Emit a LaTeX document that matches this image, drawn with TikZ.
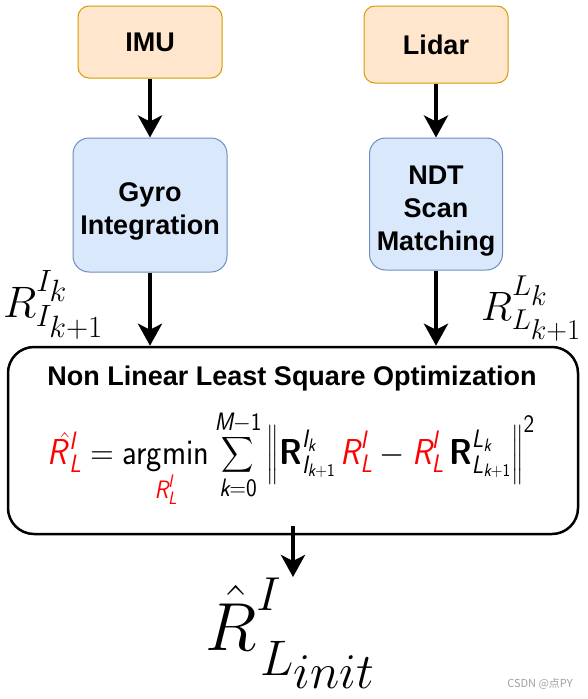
\RequirePackage{fix-cm}
\documentclass[tikz,border=0pt]{standalone}
\usepackage{amsmath}
\usepackage{graphicx}
\usepackage{fontspec}
\usetikzlibrary{arrows.meta}
\newfontfamily\boxfont{Liberation Sans}
\newfontfamily\cjkfont{Noto Sans CJK SC}
\definecolor{imufill}{HTML}{FFE6CC}
\definecolor{imudraw}{HTML}{D79B00}
\definecolor{procfill}{HTML}{DAE8FC}
\definecolor{procdraw}{HTML}{6C8EBF}
\definecolor{wmgray}{HTML}{A0A0A0}
\newcommand{\sfi}[1]{\textsf{\itshape #1}}
\newcommand{\sfb}[1]{\textsf{\bfseries #1}}
\newcommand{\sfn}[1]{\textsf{#1}}
\newcommand{\redR}{{\color{red}\sfi{R}^{\sfi{I}}_{\sfi{L}}}}
\begin{document}
\begin{tikzpicture}[x=1pt,y=-1pt,
  boxtext/.style={font=\boxfont\bfseries\fontsize{27}{33}\selectfont, align=center, inner sep=0pt},
  srcbox/.style={boxtext, draw=imudraw, fill=imufill, rounded corners=11pt, line width=1pt, minimum width=144pt},
  procbox/.style={boxtext, draw=procdraw, fill=procfill, rounded corners=16pt, line width=1pt},
  bigbox/.style={draw=black, line width=2.5pt, rounded corners=26pt, inner sep=0pt, minimum width=570pt, minimum height=187pt},
  flow/.style={line width=4.5pt, -{Stealth[length=22pt,width=24pt,inset=6pt]}},
  mathlbl/.style={inner sep=0pt, anchor=base west}
]
\useasboundingbox (0,0) rectangle (588,699);

\node[srcbox, minimum height=72pt] (imu) at (150,42) {IMU};
\node[srcbox, minimum height=77pt] (lidar) at (436,44.5) {Lidar};
\node[procbox, minimum width=154pt, minimum height=134pt] (gyro) at (150,205) {\rule{0pt}{31pt}Gyro\\Integration};
\node[procbox, minimum width=133pt, minimum height=132pt] (ndt) at (436,204) {\rule{0pt}{33pt}NDT\\Scan\\Matching};
\node[bigbox] (opt) at (293,440.5) {};

\node[boxtext, anchor=base] (title) at (292,385) {Non Linear Least Square Optimization};

\node[inner sep=0pt, anchor=base] (eq) at (291,464) {\fontsize{36}{43}\selectfont\scalebox{0.9}[1]{%
$\displaystyle {\color{red}\skew{7}{\hat}{\raisebox{0pt}[0.6em]{\sfi{R}}}^{\sfi{I}}_{\sfi{L}}} = \mathop{\sfn{argmin}}\limits_{\redR}
\sum_{\sfi{k}=\sfn{0}}^{\sfi{M}-\sfn{1}}
\Big\| \sfb{R}^{\sfi{I}_{\sfi{k}}}_{\sfi{I}_{\sfi{k}+\sfn{1}}}\, \redR - \redR\, \sfb{R}^{\sfi{L}_{\sfi{k}}}_{\sfi{L}_{\sfi{k}+\sfn{1}}} \Big\|^{\sfn{2}}$}};

\node[mathlbl] (lblI) at (3,317) {\fontsize{44}{52}\selectfont $R^{I_{\scriptstyle k}}_{I_{\scriptstyle k+1}}$};
\node[mathlbl] (lblL) at (481,320) {\fontsize{41}{49}\selectfont $R^{L_{\scriptstyle k}}_{L_{\scriptstyle k+1}}$};

\node[mathlbl] (out) at (205,650) {\fontsize{68}{80}\selectfont $\hat{R}\rlap{\raisebox{40pt}{$\scriptstyle I$}}\hspace{4pt}\raisebox{-25pt}{\fontsize{50}{58}\selectfont$L$\raisebox{-13pt}{$init$}}$};
\coordinate (outtip) at (293,577);
\coordinate (outstart) at (293,526);

\draw[flow] (imu.south) -- (imu.south |- gyro.north);
\draw[flow] (lidar.south) -- (lidar.south |- ndt.north);
\draw[flow] (gyro.south) -- (gyro.south |- opt.north);
\draw[flow] (ndt.south) -- (ndt.south |- opt.north);
\draw[flow] (outstart) -- (outtip);

\node[anchor=center, inner sep=0pt, text=wmgray, font=\cjkfont\fontsize{11}{13}\selectfont] (wm) at (540,684) {CSDN @点PY};
\end{tikzpicture}
\end{document}
